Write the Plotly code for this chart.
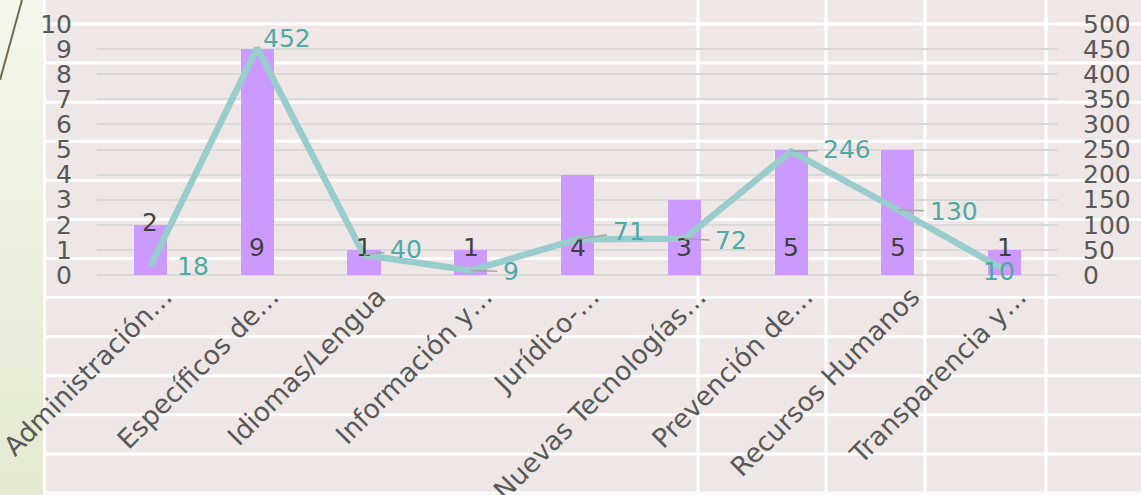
import plotly.graph_objects as go

# ---- data ----
categories = ["Administración…", "Específicos de…", "Idiomas/Lengua", "Información y…",
              "Jurídico-…", "Nuevas Tecnologías…", "Prevención de…", "Recursos Humanos",
              "Transparencia y…"]
cursos = [2, 9, 1, 1, 4, 3, 5, 5, 1]
horas = [18, 452, 40, 9, 71, 72, 246, 130, 10]
left_ticks = list(range(0, 11))
right_ticks = list(range(0, 501, 50))

# ---- style ----
W, H = 1141, 495
ML, MR, MT, MB = 97, 83, 24, 220
PW, PH = W - ML - MR, H - MT - MB
FONT = "DejaVu Sans"
FS = 25
BAR_COLOR = "#CC99FF"
LINE_COLOR = "#99CCCC"
LINE_LABEL_COLOR = "#4FA9A6"
BG = "#EFE7E6"

# label offsets for line labels (dx, dy in px, leader line?)
line_label_style = [(43, 1, False), (30, -10, False), (42, -5, True), (40, 1, True),
                    (51, -8, True), (47, 2, True), (56, -2, True), (56, 2, True),
                    (-6, 2, False)]


def px_x(p):
    return (p - ML) / PW


def px_y(p):
    return (H - MB - p) / PH


fig = go.Figure()
fig.add_trace(go.Bar(x=categories, y=cursos, marker_color=BAR_COLOR, width=0.31,
                     yaxis="y", name="Cursos", hoverinfo="skip"))
fig.add_trace(go.Scatter(x=categories, y=horas, mode="lines", yaxis="y2",
                         line=dict(color=LINE_COLOR, width=6.5), name="Horas",
                         hoverinfo="skip"))

shapes = []
# left green strip (gradient approximated with bands)
top_c = (0xF3, 0xF6, 0xEB)
bot_c = (0xE4, 0xEB, 0xD2)
nb = 20
for i in range(nb):
    t = i / (nb - 1)
    c = tuple(int(round(top_c[k] + (bot_c[k] - top_c[k]) * t)) for k in range(3))
    shapes.append(dict(type="rect", xref="paper", yref="paper",
                       x0=px_x(0), x1=px_x(43.5), y0=px_y(H * i / nb), y1=px_y(H * (i + 1) / nb),
                       fillcolor="rgb(%d,%d,%d)" % c, line_width=0, layer="below"))
# decorative diagonal line
shapes.append(dict(type="line", xref="paper", yref="paper", x0=px_x(0), y0=px_y(80),
                   x1=px_x(22), y1=px_y(0), line=dict(color="#6E6A4E", width=2), layer="below"))
# white table lines
for k in range(13):
    yy = 24 + k * 39.08
    shapes.append(dict(type="line", xref="paper", yref="paper", x0=px_x(45), x1=px_x(W),
                       y0=px_y(yy), y1=px_y(yy), line=dict(color="white", width=3), layer="below"))
for xx in [44.5, 698, 826, 925, 1046]:
    shapes.append(dict(type="line", xref="paper", yref="paper", x0=px_x(xx), x1=px_x(xx),
                       y0=px_y(0), y1=px_y(H), line=dict(color="white", width=3), layer="below"))

annotations = []
for c, v in zip(categories, cursos):
    ly = v + 0.1 if v <= 2 else 1.08
    annotations.append(dict(x=c, y=ly, xref="x", yref="y", text=str(v), showarrow=False,
                            font=dict(family=FONT, size=FS, color="#404040")))
for c, v, (dx, dy, lead) in zip(categories, horas, line_label_style):
    if lead:
        annotations.append(dict(x=c, y=v, xref="x", yref="y2", text=str(v), showarrow=True,
                                ax=dx, ay=dy, axref="pixel", ayref="pixel", arrowhead=0,
                                arrowwidth=1.5, arrowcolor="#A6A6A6", standoff=0, borderpad=5,
                                font=dict(family=FONT, size=FS, color=LINE_LABEL_COLOR)))
    else:
        annotations.append(dict(x=c, y=v, xref="x", yref="y2", text=str(v), showarrow=False,
                                xshift=dx, yshift=-dy,
                                font=dict(family=FONT, size=FS, color=LINE_LABEL_COLOR)))

fig.update_layout(
    template="none",
    width=W, height=H, autosize=False,
    margin=dict(l=ML, r=MR, t=MT, b=MB, pad=0, autoexpand=False),
    paper_bgcolor=BG, plot_bgcolor="rgba(0,0,0,0)",
    showlegend=False, bargap=0,
    font=dict(family=FONT, size=FS, color="#595959"),
    xaxis=dict(type="category", range=[-0.5, 8.5], tickangle=-45, showgrid=False,
               showline=False, zeroline=False, ticks="", ticklabelstandoff=0,
               ticklabelshift=14, automargin=False,
               tickfont=dict(family=FONT, size=26.5, color="#595959")),
    yaxis=dict(range=[0, 10], tickvals=left_ticks, ticktext=[str(t) for t in left_ticks],
               showgrid=True, gridcolor="#D9D9D9", gridwidth=2, zeroline=True,
               zerolinecolor="#D9D9D9", zerolinewidth=2, showline=False, ticks="",
               ticklabelstandoff=24, automargin=False,
               tickfont=dict(family=FONT, size=FS, color="#595959")),
    yaxis2=dict(range=[0, 500], tickvals=right_ticks, ticktext=[str(t) for t in right_ticks],
                overlaying="y", side="right", showgrid=False, zeroline=False, showline=False,
                ticks="", ticklabelstandoff=24, automargin=False,
                tickfont=dict(family=FONT, size=FS, color="#595959")),
    shapes=shapes, annotations=annotations,
)

fig.write_html("out.html", config={"displayModeBar": False},
               post_script="document.body.style.margin='0';document.body.style.overflow='hidden';")
